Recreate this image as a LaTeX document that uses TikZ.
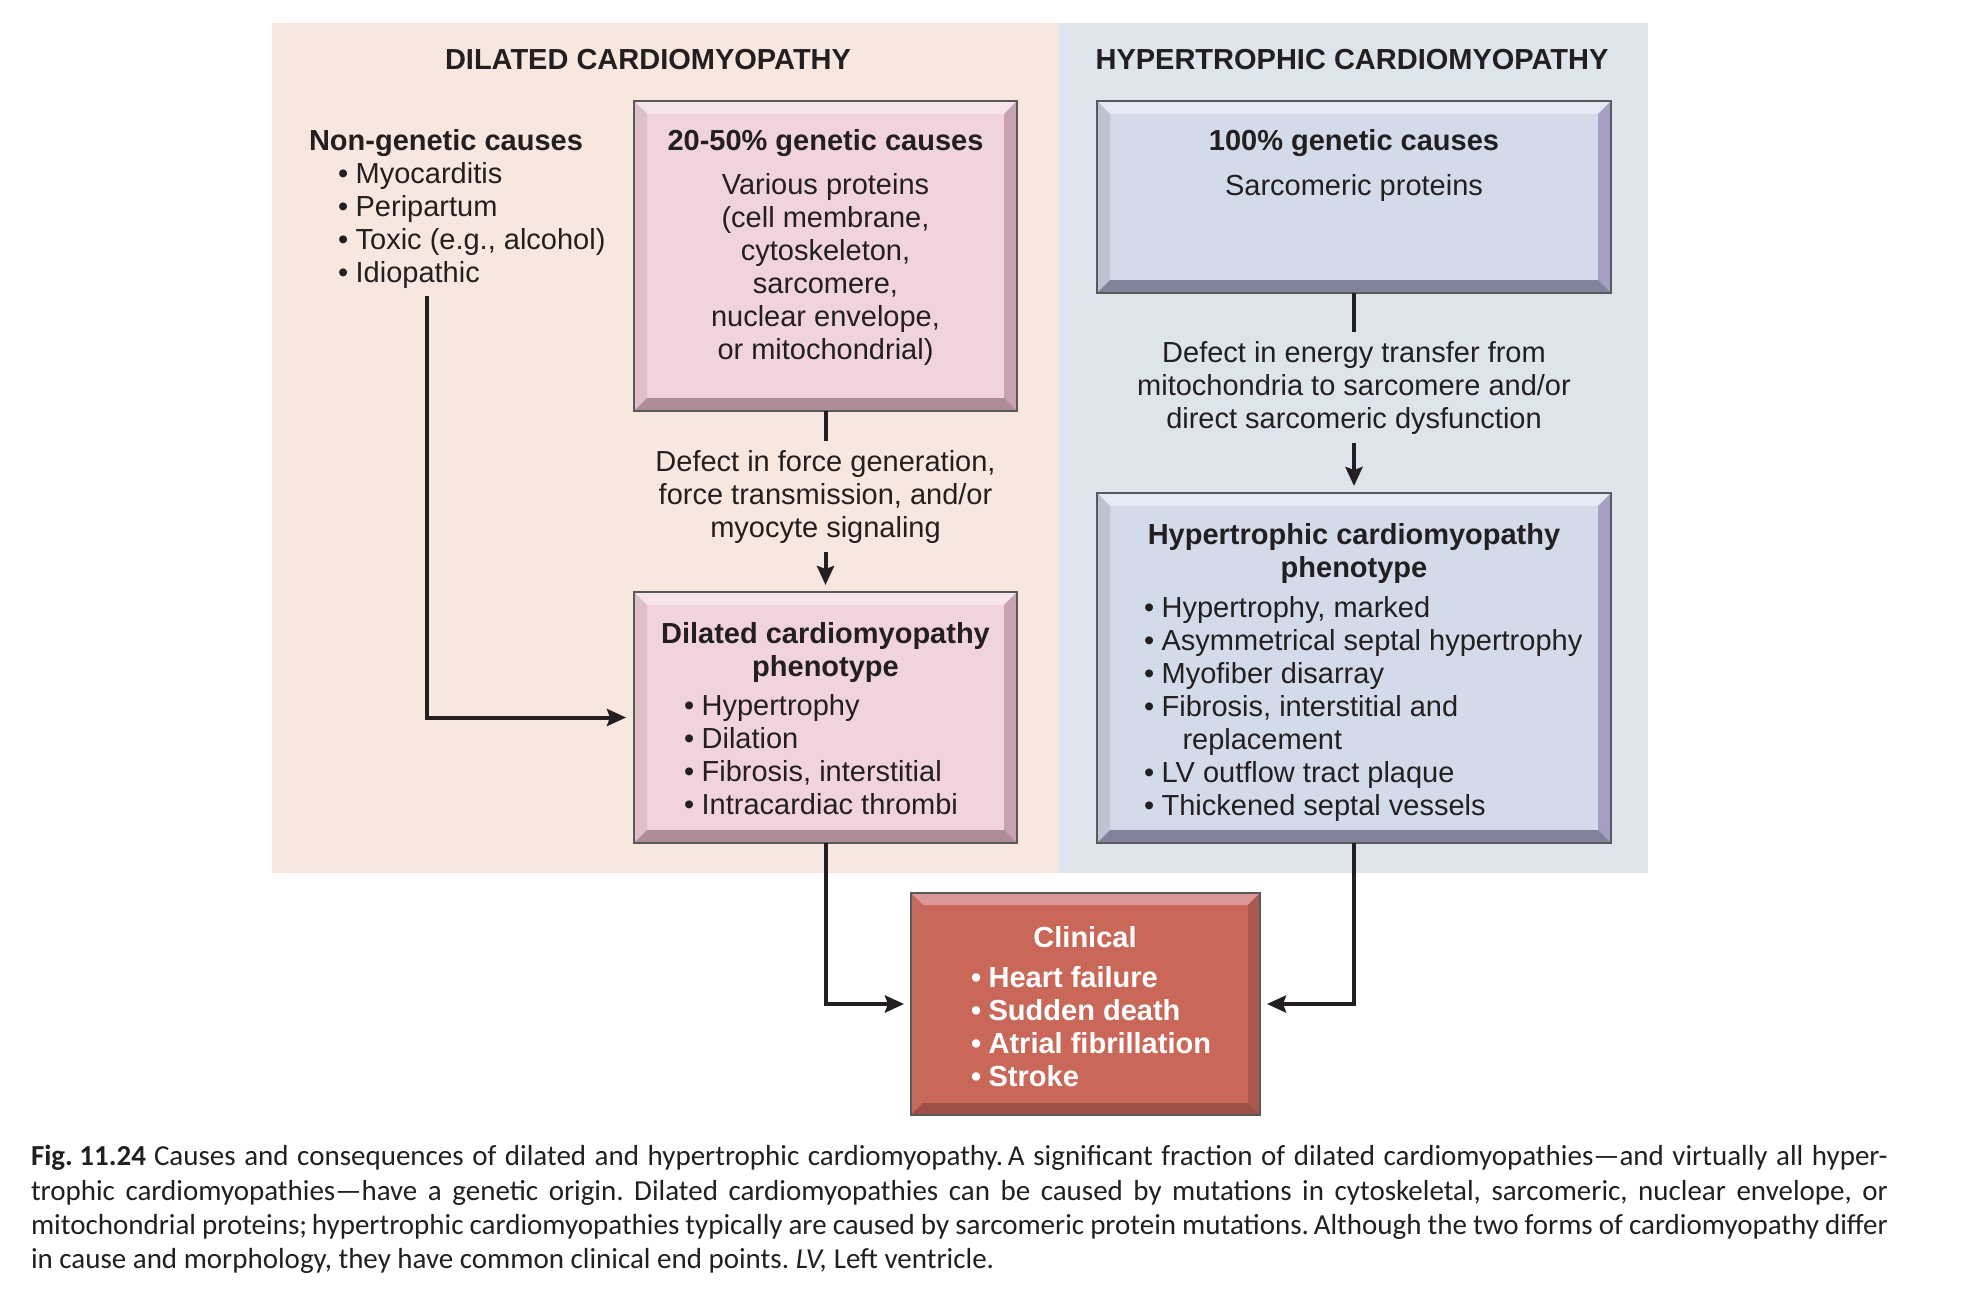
\documentclass[tikz,border=0pt]{standalone}
\usepackage{fontspec}
\setmainfont{Liberation Sans}
\newfontfamily\capfont{Carlito}
\usetikzlibrary{arrows.meta}
\definecolor{txt}{HTML}{231F20}
\definecolor{leftbg}{HTML}{F8E7DF}
\definecolor{rightbg}{HTML}{DDE4EC}
\definecolor{pinkfill}{HTML}{F0D3DC}
\definecolor{pinktop}{HTML}{F6E4EA}
\definecolor{pinkleft}{HTML}{DDBFC8}
\definecolor{pinkright}{HTML}{C8A2AF}
\definecolor{pinkbot}{HTML}{AF8C97}
\definecolor{bluefill}{HTML}{D3DAE9}
\definecolor{bluetop}{HTML}{E4E9F3}
\definecolor{blueleft}{HTML}{BEC3D2}
\definecolor{blueright}{HTML}{A5A0C3}
\definecolor{bluebot}{HTML}{82829B}
\definecolor{redfill}{HTML}{C96859}
\definecolor{redtop}{HTML}{DC9696}
\definecolor{redleft}{HTML}{C46A5C}
\definecolor{redright}{HTML}{A85A50}
\definecolor{redbot}{HTML}{9C5046}
\definecolor{outl}{HTML}{5A5A5A}
\newcommand\bul{•\hspace{7.5pt}}
\newcommand\bevelbox[6]{%
  \fill[#3] (#1.north west) -- (#1.north east) -- ([shift={(-#2,#2)}]#1.north east) -- ([shift={(#2,#2)}]#1.north west) -- cycle;
  \fill[#4] (#1.north west) -- ([shift={(#2,#2)}]#1.north west) -- ([shift={(#2,-#2)}]#1.south west) -- (#1.south west) -- cycle;
  \fill[#5] (#1.north east) -- (#1.south east) -- ([shift={(-#2,-#2)}]#1.south east) -- ([shift={(-#2,#2)}]#1.north east) -- cycle;
  \fill[#6] (#1.south west) -- (#1.south east) -- ([shift={(-#2,-#2)}]#1.south east) -- ([shift={(#2,-#2)}]#1.south west) -- cycle;
  \draw[outl, line width=1.3pt] (#1.north west) rectangle (#1.south east);
}
\begin{document}
\begin{tikzpicture}[x=1pt,y=-1pt,
  every node/.style={inner sep=0pt, outer sep=0pt, text=txt},
  dfont/.style={font=\fontsize{29}{33}\selectfont},
  bfont/.style={font=\fontsize{29}{33}\selectfont\bfseries},
  boxnode/.style={rectangle, draw=none},
  conn/.style={line width=4pt, draw=txt},
  arr/.style={conn, -{Stealth[length=19pt,width=17pt,inset=3pt]}},
  deftext/.style={dfont, align=center, inner ysep=9pt, inner xsep=0pt}
]
\useasboundingbox (0,0) rectangle (1964,1304);
\fill[white] (0,0) rectangle (1964,1304);
% panels
\fill[leftbg] (272,23) rectangle (1058,873);
\fill[rightbg] (1058,23) rectangle (1648,873);
\node[bfont, anchor=base] (tdil) at (648,69) {DILATED CARDIOMYOPATHY};
\node[bfont, anchor=base] (thyp) at (1352,69) {HYPERTROPHIC CARDIOMYOPATHY};

% boxes
\node[boxnode, fill=pinkfill, minimum width=383pt, minimum height=310pt] (A) at (825.5,256) {};
\bevelbox{A}{13}{pinktop}{pinkleft}{pinkright}{pinkbot}
\node[boxnode, fill=bluefill, minimum width=514pt, minimum height=192pt] (B) at (1354,197) {};
\bevelbox{B}{13}{bluetop}{blueleft}{blueright}{bluebot}
\node[boxnode, fill=pinkfill, minimum width=383pt, minimum height=251pt] (C) at (825.5,717.5) {};
\bevelbox{C}{13}{pinktop}{pinkleft}{pinkright}{pinkbot}
\node[boxnode, fill=bluefill, minimum width=514pt, minimum height=350pt] (D) at (1354,668) {};
\bevelbox{D}{13}{bluetop}{blueleft}{blueright}{bluebot}
\node[boxnode, fill=redfill, minimum width=349pt, minimum height=222pt] (E) at (1085.5,1004) {};
\bevelbox{E}{12}{redtop}{redleft}{redright}{redbot}

% texts in boxes
\node[bfont, anchor=base] (Atitle) at (825.5,150.5) {20-50\% genetic causes};
\node[dfont, align=center, anchor=north] (Abody) at (825.5,173.5) {Various proteins\\(cell membrane,\\cytoskeleton,\\sarcomere,\\nuclear envelope,\\or mitochondrial)};
\node[bfont, anchor=base] (Btitle) at (1354,150.5) {100\% genetic causes};
\node[dfont, anchor=base] (Bbody) at (1354,195.5) {Sarcomeric proteins};
\node[bfont, align=center, anchor=north] (Ctitle) at (825.5,622.5) {Dilated cardiomyopathy\\phenotype};
\node[dfont, align=left, anchor=north west] (Clist) at (684,694.5) {\bul Hypertrophy\\\bul Dilation\\\bul Fibrosis, interstitial\\\bul Intracardiac thrombi};
\node[bfont, align=center, anchor=north] (Dtitle) at (1354,523.5) {Hypertrophic cardiomyopathy\\phenotype};
\node[dfont, align=left, anchor=north west] (Dlist) at (1144,596.5) {\bul Hypertrophy, marked\\\bul Asymmetrical septal hypertrophy\\\bul Myofiber disarray\\\bul Fibrosis, interstitial and\\\hspace*{38.5pt}replacement\\\bul LV outflow tract plaque\\\bul Thickened septal vessels};
\node[bfont, anchor=base, text=white] (Etitle) at (1085,947.5) {Clinical};
\node[bfont, align=left, anchor=north west, text=white] (Elist) at (971,966.5) {\bul Heart failure\\\bul Sudden death\\\bul Atrial fibrillation\\\bul Stroke};

% non-genetic causes
\node[bfont, anchor=base west] (ngtitle) at (309,150.5) {Non-genetic causes};
\node[dfont, align=left, anchor=north west] (nglist) at (338,162.5) {\bul Myocarditis\\\bul Peripartum\\\bul Toxic (e.g., alcohol)\\\bul Idiopathic};
\coordinate (ngs) at (427,296);

% defect texts
\node[deftext, anchor=north] (tA) at (825.5,441) {Defect in force generation,\\force transmission, and/or\\myocyte signaling};
\node[deftext, anchor=north] (tB) at (1354,332) {Defect in energy transfer from\\mitochondria to sarcomere and/or\\direct sarcomeric dysfunction};

% connectors
\draw[conn] (A.south) -- (tA.north);
\draw[arr, shorten >=7pt] (tA.south) -- (C.north);
\draw[conn] (B.south) -- (tB.north);
\draw[arr, shorten >=7pt] (tB.south) -- (D.north);
\draw[arr, shorten >=8pt] (ngs) |- (C.west);
\draw[arr, shorten >=7pt] (C.south) |- (E.west);
\draw[arr, shorten >=7pt] (D.south) |- (E.east);

% caption
\begin{scope}[every node/.style={inner sep=0pt, outer sep=0pt, text=txt, anchor=base west, font=\capfont\fontsize{29}{34}\selectfont\frenchspacing}]
\node (cap1) at (31,1165) {\makebox[1857pt][s]{\textbf{\mbox{Fig. 11.24}}\hspace{8pt}Causes and consequences of dilated and hypertrophic cardiomyopathy.\,A significant fraction of dilated cardiomyopathies—and virtually all hyper-}};
\node (cap2) at (31,1200) {\makebox[1857pt][s]{trophic cardiomyopathies—have a genetic origin. Dilated cardiomyopathies can be caused by mutations in cytoskeletal, sarcomeric, nuclear envelope, or}};
\node (cap3) at (31,1234) {\makebox[1857pt][s]{mitochondrial proteins;\,hypertrophic cardiomyopathies typically are caused by sarcomeric protein mutations.\,Although the two forms of cardiomyopathy differ}};
\node (cap4) at (31,1268) {in cause and morphology, they have common clinical end points. \textit{LV,} Left ventricle.};
\end{scope}
\end{tikzpicture}
\end{document}
